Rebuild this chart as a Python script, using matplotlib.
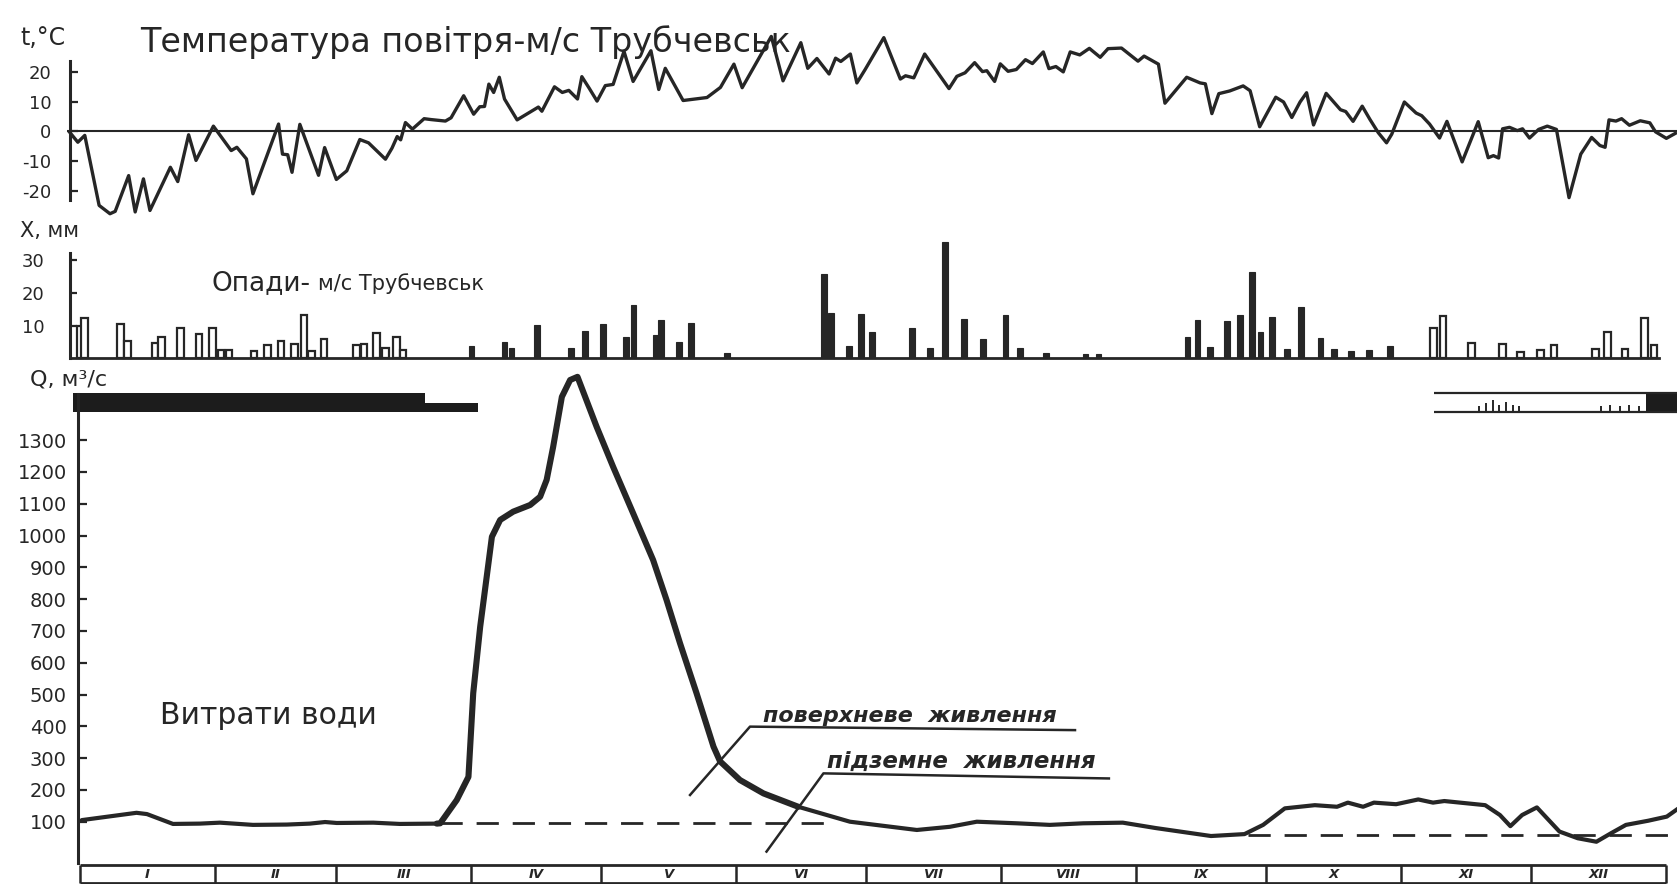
import matplotlib
matplotlib.use('Agg')
import matplotlib.pyplot as plt
import numpy as np

plt.rcParams['font.family'] = ['DejaVu Sans']
plt.rcParams['axes.unicode_minus'] = False

# ---------------- data ----------------
temp_day = [-2.4, -0.5, 1.1, 4.4, 6.9, 8.1, 11.2, 12.7, 14.6, 16.1, 20.8, 22.5, 25.0, 26.7,
            30.7, 33.4, 34.8, 36.1, 38.3, 39.8, 45.7, 46.6, 47.8, 48.8, 50.6, 52.5, 54.9,
            56.3, 59.0, 61.4, 64.4, 66.4, 70.3, 71.8, 73.0, 73.8, 74.9, 76.5, 79.2, 80.8,
            84.1, 85.4, 88.3, 90.6, 92.0, 93.1, 94.1, 95.2, 96.5, 97.7, 100.6, 105.5, 106.3,
            109.2, 111.0, 112.5, 114.5, 115.5, 117.2, 119.0, 120.9, 122.7, 125.2, 127.3,
            131.4, 133.2, 134.7, 138.8, 144.3, 147.4, 150.5, 152.4, 159.1, 161.8, 165.9,
            167.5, 169.6, 172.4, 173.9, 175.1, 177.3, 178.8, 180.7, 185.0, 188.8, 190.0,
            191.9, 194.4, 200.0, 201.8, 203.7, 205.9, 207.7, 208.7, 210.5, 211.8, 213.6,
            215.5, 217.6, 219.2, 221.7, 223.0, 224.6, 226.3, 227.9, 230.1, 232.3, 234.8,
            236.6, 239.7, 243.5, 244.9, 248.2, 249.7, 254.7, 257.8, 259.0, 260.5, 262.1,
            264.6, 267.7, 269.3, 271.5, 275.2, 277.0, 278.9, 280.8, 282.3, 283.9, 286.8,
            290.1, 291.3, 293.0, 295.1, 296.9, 298.8, 300.7, 301.9, 304.8, 307.5, 308.8,
            310.6, 312.9, 314.6, 318.1, 321.8, 324.1, 325.3, 326.5, 327.4, 329.0, 330.8,
            332.0, 333.6, 335.7, 337.7, 339.8, 342.7, 345.4, 347.9, 349.8, 351.0, 351.9,
            353.5, 354.8, 356.6, 359.1, 361.3, 362.6, 365.1, 367.2]
temp_val = [-0.2, -3.6, -1.3, -24.8, -27.6, -26.8, -14.8, -27.0, -15.9, -26.5, -12.0, -16.8,
            -1.1, -9.7, 1.8, -3.6, -6.4, -5.3, -9.2, -20.9, 2.5, -7.6, -7.8, -13.7, 2.4, -5.2,
            -14.7, -5.4, -16.1, -13.2, -2.7, -3.8, -9.3, -5.6, -1.7, -2.8, 3.0, 0.8, 4.3, 4.0,
            3.5, 4.6, 12.0, 5.8, 8.3, 8.4, 15.9, 13.1, 18.2, 10.9, 3.9, 8.2, 6.8, 15.0, 13.1,
            13.8, 10.9, 18.4, 14.5, 10.2, 15.4, 15.8, 26.9, 16.8, 27.1, 14.1, 21.2, 10.4, 11.4,
            14.8, 22.6, 14.7, 31.9, 17.0, 29.8, 21.2, 24.5, 19.3, 24.6, 23.5, 26.0, 16.3, 20.8,
            31.5, 17.6, 18.7, 18.0, 26.0, 14.4, 18.5, 19.7, 23.1, 20.1, 20.4, 16.8, 22.7, 20.2,
            20.8, 24.1, 22.8, 26.7, 21.1, 21.8, 20.0, 26.7, 25.7, 27.9, 24.9, 27.8, 28.0, 23.6,
            25.3, 22.6, 9.5, 18.2, 16.3, 16.0, 6.0, 12.7, 13.6, 15.3, 13.7, 1.6, 11.5, 9.9, 4.7,
            9.9, 13.0, 2.2, 12.8, 7.3, 6.7, 3.4, 8.5, 4.0, -0.4, -3.8, -0.9, 9.9, 6.2, 5.3, 2.5,
            -2.2, 3.4, -10.2, 3.3, -8.8, -8.1, -8.9, 0.9, 1.4, 0.3, 0.9, -2.2, 0.7, 1.8, 0.7,
            -22.2, -7.6, -2.0, -4.7, -5.3, 3.9, 3.5, 4.3, 2.1, 3.6, 2.9, -0.1, -2.3, -0.6]

precip_day = [0.0, 1.0, 9.3, 10.9, 17.3, 18.8, 23.1, 27.4, 30.5, 32.4, 34.3, 40.1, 43.2,
              46.3, 49.4, 51.6, 53.3, 56.2, 63.6, 65.4, 68.2, 70.3, 72.8, 74.3, 90.1, 97.7,
              99.3, 105.2, 113.1, 116.2, 120.3, 125.6, 127.4, 132.6, 133.8, 137.9, 140.6,
              149.0, 171.2, 172.9, 176.9, 179.8, 182.2, 191.5, 195.6, 199.0, 203.5, 207.8,
              213.0, 216.4, 222.3, 231.4, 234.4, 254.9, 257.2, 260.0, 264.0, 266.9, 269.8,
              271.7, 274.3, 277.7, 281.1, 285.5, 288.6, 292.6, 296.6, 301.5, 311.5, 313.7,
              320.2, 327.4, 331.5, 336.1, 339.2, 348.8, 351.6, 355.6, 360.1, 362.2]
precip_mm = [10.0, 12.2, 10.5, 5.4, 4.6, 6.6, 9.3, 7.3, 9.1, 2.5, 2.5, 2.3, 4.1, 5.4, 4.4,
             13.2, 2.3, 5.8, 4.1, 4.4, 7.6, 3.0, 6.4, 2.5, 3.6, 5.1, 3.0, 10.2, 3.0, 8.3,
             10.5, 6.4, 16.3, 7.1, 11.7, 5.1, 10.7, 1.7, 25.7, 13.7, 3.9, 13.4, 8.1, 9.3,
             3.0, 35.4, 12.0, 5.9, 13.2, 3.0, 1.5, 1.4, 1.2, 6.5, 11.6, 3.3, 11.4, 13.2,
             26.2, 8.1, 12.7, 2.8, 15.6, 6.1, 2.8, 2.3, 2.6, 3.6, 9.1, 13.0, 4.7, 4.3, 1.9,
             2.4, 4.2, 2.8, 8.1, 2.8, 12.2, 4.0]

q_day = [0.4, 13.0, 15.4, 21.4, 27.6, 32.2, 39.8, 47.6, 52.9, 56.4, 59.1, 67.5, 73.6, 82.1,
         82.9, 86.7, 89.4, 90.5, 92.1, 93.6, 94.8, 96.7, 99.7, 103.6, 105.9, 107.4, 108.9,
         110.9, 112.8, 114.5, 118.9, 122.7, 127.3, 131.9, 135.0, 138.1, 141.9, 145.8, 147.3,
         151.9, 157.3, 165.3, 177.2, 192.6, 200.2, 206.4, 215.6, 223.2, 230.9, 240.0, 247.6,
         260.3, 268.0, 272.3, 277.3, 284.2, 289.3, 291.8, 295.3, 297.8, 302.9, 308.0, 311.4,
         314.0, 323.4, 326.8, 329.2, 331.9, 335.3, 340.5, 344.7, 349.0, 352.4, 355.8, 360.9,
         365.2, 368.4]
q_val = [105, 128, 124, 93, 94, 97, 90, 91, 94, 99, 96, 97, 93, 94, 95, 168, 241, 504, 713,
         870, 996, 1049, 1075, 1096, 1122, 1175, 1279, 1436, 1489, 1499, 1342, 1216, 1070,
         923, 797, 661, 504, 336, 290, 231, 189, 147, 100, 74, 84, 100, 95, 90, 95, 97, 80,
         55, 61, 90, 142, 152, 147, 160, 147, 160, 155, 170, 160, 165, 152, 121, 86, 121,
         145, 69, 48, 37, 64, 90, 103, 116, 147]

base_early_day = [82.9, 173.3]
base_early_q = [95, 95]
base_late_day = [268.8, 367.6]
base_late_q = [58, 58]

month_names = ['I', 'II', 'III', 'IV', 'V', 'VI', 'VII', 'VIII', 'IX', 'X', 'XI', 'XII']
month_days = [31, 28, 31, 30, 31, 30, 31, 31, 30, 31, 30, 31]

temp_ticks = [-20, -10, 0, 10, 20]
precip_ticks = [10, 20, 30]
q_ticks = [100, 200, 300, 400, 500, 600, 700, 800, 900, 1000, 1100, 1200, 1300]

# ice phenomena (days)
ice_winter_full = (-1.6, 79.4)
ice_winter_part = (79.4, 91.6)
ice_autumn_start = 311.6
ice_freeze_start = 360.4
ice_tick_day = [322.0, 323.6, 325.2, 326.6, 328.2, 329.8, 331.2,
                350.0, 352.2, 354.4, 356.6, 358.8]
ice_tick_px = [6, 9, 12, 7, 10, 7, 6, 6, 7, 6, 7, 6]

# annotation leaders (day, Q)
lead_surface_day = [140.4, 154.2, 229.0]
lead_surface_q = [184, 399, 388]
lead_ground_day = [158.0, 171.1, 236.8]
lead_ground_q = [6, 252, 236]

# ---------------- figure ----------------
W, H = 1677, 886
INK = '#262626'
fig = plt.figure(figsize=(W / 100, H / 100), dpi=100)
fig.patch.set_facecolor('white')


def fy(y):
    return 1 - y / H


XL = (-3.0, 367.6)
left = (80 - 3.0 * 4.345) / W
width = (XL[1] - XL[0]) * 4.345 / W

ax_t = fig.add_axes([left, fy(220), width, 190 / H])
ax_p = fig.add_axes([left, fy(362.3), width, 122.3 / H])
ax_q = fig.add_axes([left, fy(863.3), width, 498.3 / H])
ax_m = fig.add_axes([left, fy(884), width, 20.7 / H])

for ax in (ax_t, ax_p, ax_q, ax_m):
    ax.set_xlim(*XL)
    ax.patch.set_alpha(0)
    for s in ('top', 'right', 'bottom'):
        ax.spines[s].set_visible(False)
    ax.set_xticks([])

# --- temperature ---
ax_t.set_ylim(-29.7, 34.06)
ax_t.axhline(0, color=INK, lw=1.5, zorder=1)
ax_t.plot(temp_day, temp_val, color=INK, lw=2.4, solid_joinstyle='round', zorder=2,
          clip_on=False)
ax_t.spines['left'].set_position(('data', -2.4))
ax_t.spines['left'].set_bounds(-23, 23.5)
ax_t.spines['left'].set_linewidth(2.2)
ax_t.spines['left'].set_color(INK)
ax_t.set_yticks(temp_ticks)
ax_t.tick_params(axis='y', direction='in', length=5.5, width=1.6, pad=13,
                 labelsize=13, colors=INK)

# --- precipitation ---
ax_p.set_ylim(-1.22, 36.07)
snow = [(d < 80 or d > 305) for d in precip_day]
ax_p.bar([d for d, s in zip(precip_day, snow) if not s],
         [v for v, s in zip(precip_mm, snow) if not s],
         width=1.35, color=INK, edgecolor=INK, lw=0.8, zorder=2)
ax_p.bar([d for d, s in zip(precip_day, snow) if s],
         [v for v, s in zip(precip_mm, snow) if s],
         width=1.5, color='white', edgecolor=INK, lw=1.6, zorder=2)
ax_p.axhline(0, xmin=(-2.4 - XL[0]) / (XL[1] - XL[0]),
             xmax=(363.5 - XL[0]) / (XL[1] - XL[0]), color=INK, lw=2.0, zorder=3)
ax_p.spines['left'].set_position(('data', -2.4))
ax_p.spines['left'].set_bounds(0, 32.1)
ax_p.spines['left'].set_linewidth(2.2)
ax_p.spines['left'].set_color(INK)
ax_p.set_yticks(precip_ticks)
ax_p.tick_params(axis='y', direction='in', length=5, width=1.6, pad=18,
                 labelsize=13, colors=INK)

# --- discharge ---
ax_q.set_ylim(-30.8, 1536.2)
ax_q.plot(q_day, q_val, color=INK, lw=3.0, solid_joinstyle='round',
          solid_capstyle='round', zorder=3)
flood = [(d, q) for d, q in zip(q_day, q_val) if 82 <= d <= 166]
ax_q.plot([p[0] for p in flood], [p[1] for p in flood], color=INK, lw=4.4,
          solid_joinstyle='round', solid_capstyle='round', zorder=3)
ax_q.plot(base_early_day, base_early_q, color=INK, lw=2.0, ls=(0, (8, 5)), zorder=2)
ax_q.plot(base_late_day, base_late_q, color=INK, lw=2.0, ls=(0, (8, 5)), zorder=2)

xt = ax_q.get_xaxis_transform()
ylo, yhi, ymid = 0.9058, 0.9448, 0.9238
ax_q.axvspan(*ice_winter_full, ymin=ylo, ymax=yhi, color='#1c1c1c', lw=0)
ax_q.axvspan(*ice_winter_part, ymin=ylo, ymax=ymid, color='#1c1c1c', lw=0)
ax_q.hlines([ylo, yhi], ice_autumn_start, XL[1], transform=xt, color=INK, lw=1.6)
ax_q.axvspan(ice_freeze_start, XL[1], ymin=ylo, ymax=yhi, color='#1c1c1c', lw=0)
ax_q.vlines(ice_tick_day, ylo, [ylo + h / 498.3 for h in ice_tick_px], transform=xt,
            color=INK, lw=1.4)

ax_q.plot(lead_surface_day, lead_surface_q, color=INK, lw=1.8, zorder=4)
ax_q.plot(lead_ground_day, lead_ground_q, color=INK, lw=1.8, zorder=4, clip_on=False)

ax_q.spines['left'].set_position(('data', -0.5))
ax_q.spines['left'].set_bounds(-30.8, 1445)
ax_q.spines['left'].set_linewidth(2.2)
ax_q.spines['left'].set_color(INK)
ax_q.set_yticks(q_ticks)
ax_q.tick_params(axis='y', direction='in', length=6.5, width=1.6, pad=8,
                 labelsize=14, colors=INK)

# --- month strip ---
ax_m.set_ylim(0, 1)
ax_m.spines['left'].set_visible(False)
ax_m.set_yticks([])
bounds = np.concatenate([[0], np.cumsum(month_days)])
ax_m.hlines([0.06, 0.94], bounds[0], bounds[-1], color=INK, lw=2.0)
ax_m.vlines(bounds, 0.06, 0.94, color=INK, lw=1.8)
for i, name in enumerate(month_names):
    ax_m.text((bounds[i] + bounds[i + 1]) / 2, 0.48, name, ha='center', va='center',
              fontsize=9.5, fontstyle='italic', fontweight='bold', color=INK)

# --- texts ---
fig.text(20 / W, fy(45), 't,°C', fontsize=17, color=INK, va='baseline')
fig.text(140 / W, fy(52), 'Температура повітря-м/с Трубчевськ', fontsize=24,
         color=INK, va='baseline')
fig.text(20 / W, fy(237), 'X, мм', fontsize=15, color=INK, va='baseline')
fig.text(211 / W, fy(290), 'Опади-', fontsize=19, color=INK, va='baseline')
fig.text(318 / W, fy(290), 'м/с Трубчевськ', fontsize=15, color=INK, va='baseline')
fig.text(30 / W, fy(386), 'Q, м³/с', fontsize=16, color=INK, va='baseline')
fig.text(160 / W, fy(724), 'Витрати води', fontsize=21.5, color=INK, va='baseline')
fig.text(763 / W, fy(722), 'поверхневе  живлення', fontsize=16, color=INK,
         va='baseline', fontstyle='italic', fontweight='bold')
fig.text(827 / W, fy(769), 'підземне  живлення', fontsize=16.5, color=INK,
         va='baseline', fontstyle='italic', fontweight='bold')

fig.savefig('out.png', dpi=100, facecolor='white')
